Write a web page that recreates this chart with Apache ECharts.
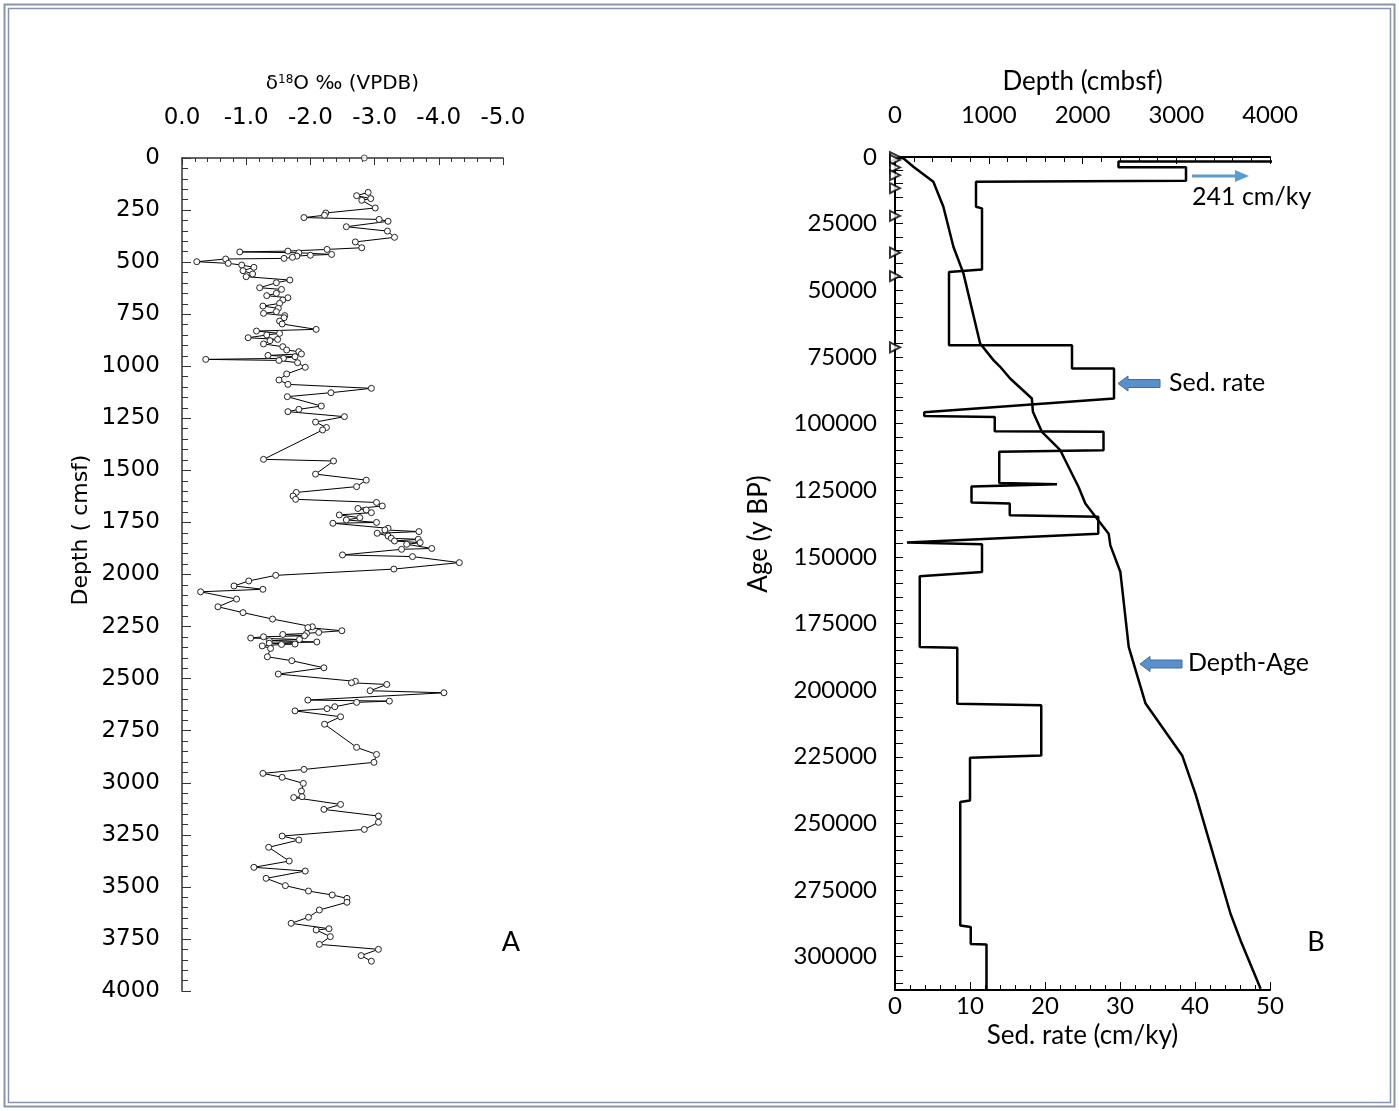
<!DOCTYPE html>
<html>
<head>
<meta charset="utf-8">
<title>d18O and depth-age model</title>
<script src="https://cdn.jsdelivr.net/npm/echarts@6/dist/echarts.min.js"></script>
<style>
  html, body { margin: 0; padding: 0; background: #fff; }
  #main { width: 1399px; height: 1111px; }
</style>
</head>
<body>
<div id="main"></div>
<script>
// Panel A: d18O (permil VPDB) against depth (cm)
var o18 = [
  -2.90, -2.72, -2.94, -2.80, -3.01, -2.24, -2.22, -1.90, -3.07, -3.21,
  -2.56, -3.20, -3.31, -2.70, -2.80, -2.26, -1.65, -0.90, -1.82, -2.33,
  -2.00, -1.79, -1.72, -1.59, -0.68, -0.23, -0.72, -0.93, -1.12, -0.95,
  -1.10, -1.00, -1.68, -1.47, -1.21, -1.55, -1.47, -1.32, -1.65, -1.57,
  -1.52, -1.26, -1.50, -1.47, -1.27, -1.60, -1.59, -1.52, -1.56, -2.09,
  -1.16, -1.52, -1.32, -1.03, -1.49, -1.37, -1.27, -1.57, -1.63, -1.82,
  -1.86, -1.34, -1.76, -1.58, -0.37, -1.51, -1.80, -1.92, -1.63, -1.51,
  -1.65, -2.95, -2.32, -1.64, -2.17, -1.82, -1.65, -2.53, -2.08, -2.25,
  -2.19, -1.27, -2.36, -2.08, -2.87, -2.72, -1.78, -1.73, -1.77,
  -3.03, -3.12, -2.74, -2.87, -2.95, -2.45, -2.77, -2.56, -3.03, -2.35,
  -3.21, -3.16, -3.69, -3.04, -3.21, -3.26, -3.68, -3.31, -3.71, -3.50,
  -3.89, -3.42, -2.50, -3.59, -4.32, -3.30, -1.46, -1.04, -0.81, -1.26,
  -0.29, -0.85, -0.56, -0.95, -1.41, -2.03, -1.96, -2.49, -2.13, -1.94,
  -1.57, -1.91, -1.27, -1.07, -1.83, -1.36, -2.10, -1.36, -1.76, -1.55,
  -1.25, -1.38, -1.33, -1.71, -2.21, -1.50, -2.70, -2.64, -3.19, -2.93,
  -4.08, -1.96, -3.23, -2.72, -2.38, -2.26, -1.76, -2.47, -2.22,
  -2.72, -3.03, -2.99, -1.90, -1.26, -1.56, -1.89, -1.86, -1.87, -1.74,
  -2.47, -2.21, -3.06, -3.06, -2.84, -1.56, -1.82, -1.35, -1.67, -1.12,
  -1.92, -1.31, -1.61, -1.97, -2.34, -2.57, -2.57, -2.14, -1.97, -1.70,
  -2.29, -2.09, -2.31, -2.14, -3.06, -2.79, -2.95
];
var depthA = [
  165, 181, 195, 203, 240, 264, 275, 286, 295, 304,
  330, 351, 381, 403, 431, 439, 447, 451, 455, 463,
  467, 471, 477, 482, 485, 498, 506, 514, 525, 541,
  557, 570, 586, 599, 623, 631, 650, 661, 671, 682,
  698, 711, 722, 738, 746, 757, 767, 783, 797, 823,
  831, 842, 850, 863, 871, 877, 893, 906, 922, 930,
  941, 948, 954, 962, 967, 972, 983, 1005, 1037, 1066,
  1087, 1106, 1127, 1146, 1191, 1207, 1218, 1242, 1268, 1294,
  1306, 1447, 1455, 1518, 1547, 1578, 1606, 1623, 1639,
  1654, 1671, 1683, 1690, 1703, 1714, 1727, 1738, 1750, 1754,
  1778, 1786, 1794, 1802, 1815, 1826, 1831, 1839, 1847, 1855,
  1875, 1879, 1906, 1914, 1943, 1974, 2004, 2031, 2055, 2071,
  2083, 2118, 2155, 2183, 2214, 2251, 2255, 2270, 2278, 2283,
  2288, 2294, 2299, 2305, 2312, 2318, 2324, 2330, 2334, 2336,
  2343, 2355, 2395, 2414, 2448, 2478, 2513, 2520, 2528, 2558,
  2568, 2603, 2608, 2614, 2635, 2644, 2655, 2683, 2719,
  2830, 2864, 2902, 2936, 2955, 2974, 3003, 3040, 3067, 3071,
  3104, 3128, 3160, 3190, 3224, 3256, 3275, 3310, 3376, 3406,
  3424, 3459, 3494, 3520, 3539, 3555, 3574, 3611, 3646, 3675,
  3701, 3707, 3739, 3776, 3800, 3830, 3857
];
// core-top sample, not joined to the rest
var topO18 = [-2.84];
var topDepth = [0];

// Panel B: depth-age model
var modelDepth = [0, 89, 196, 409, 516, 623, 730, 908, 1050, 1122, 1228, 1460, 1471, 1567,
  1763, 1958, 2030, 2279, 2297, 2404, 2493, 2671, 3063, 3205, 3579, 3686, 3900];
var modelAge = [0, 490, 3640, 9270, 18660, 33670, 43660, 69940, 76200, 78700, 83100, 90600, 95600, 103100,
  110000, 123800, 130000, 141300, 145700, 155700, 183800, 204900, 224500, 238900, 283900, 293900, 312000];

// sedimentation rate (cm/ky) steps
var sedRate = [241, 241, 29.8, 29.8, 38.8, 38.8, 10.8, 10.8, 11.6, 11.6, 7.2, 7.2, 23.6, 23.6, 29.2, 29.2,
  3.9, 3.9, 13.3, 13.3, 27.8, 27.8, 13.9, 13.9, 21.6, 10.2, 10.2, 15.3, 15.3, 27.1, 27.1, 1.6,
  11.6, 11.6, 3.3, 3.3, 8.3, 8.3, 19.5, 19.5, 10.0, 10.0, 8.7, 8.7, 10.1, 10.1, 12.2, 12.2];
var sedAge = [0, 1700, 1700, 3870, 3870, 8890, 9270, 18660, 19260, 42160, 43170, 70580, 70580, 79330, 79330, 90600,
  95800, 97200, 97500, 102900, 103100, 110000, 110600, 122300, 122800, 123600, 129600, 130000, 134400, 135000, 141300, 144600,
  145300, 155700, 157300, 183800, 184100, 205100, 205700, 224500, 225400, 241400, 242000, 288300, 288900, 295200, 295400, 312500];

// age tie points drawn on the age axis
var tieAges = [0, 1100, 3900, 6800, 11700, 22100, 35900, 44700, 71400];

function zip(xs, ys) {
  return xs.map(function (x, i) { return [x, ys[i]]; });
}

var fontA = 'DejaVu Sans';
var fontB = 'Lato';
var blue = '#5B8FCB';

var chart = echarts.init(document.getElementById('main'));

function blockArrow(tipX, y, len) {
  // left pointing block arrow
  return [
    [tipX, y], [tipX + 10, y - 7.5], [tipX + 10, y - 4], [tipX + len, y - 4],
    [tipX + len, y + 4], [tipX + 10, y + 4], [tipX + 10, y + 7.5]
  ];
}

function plain(v) { return String(v); }

chart.setOption({
  animation: false,
  backgroundColor: '#fff',
  grid: [
    { left: 182, top: 158, width: 321, height: 833 },
    { left: 895, top: 157, width: 375, height: 833 }
  ],
  xAxis: [
    {
      gridIndex: 0, type: 'value', position: 'top', inverse: true,
      min: -5, max: 0, interval: 1,
      name: '{d|δ}{s|18}{d|O ‰ (VPDB)}', nameLocation: 'middle', nameGap: 64,
      nameTextStyle: {
        color: '#000', fontFamily: fontA, fontSize: 20,
        rich: {
          d: { fontFamily: fontA, fontSize: 20, color: '#000' },
          s: { fontFamily: fontA, fontSize: 12, color: '#000', verticalAlign: 'top', padding: [0, 0, 8, 0] }
        }
      },
      axisLine: { onZero: false, lineStyle: { color: '#333', width: 1.5 } },
      axisTick: { inside: true, length: 7, lineStyle: { color: '#333' } },
      minorTick: { show: true, splitNumber: 5, length: 4, lineStyle: { color: '#333' } },
      splitLine: { show: false },
      axisLabel: {
        color: '#000', fontFamily: fontA, fontSize: 23, margin: 28,
        formatter: function (v) { return v.toFixed(1); }
      }
    },
    {
      gridIndex: 1, type: 'value', position: 'top',
      min: 0, max: 4000, interval: 1000,
      name: 'Depth (cmbsf)', nameLocation: 'middle', nameGap: 62,
      nameTextStyle: { color: '#000', fontFamily: fontB, fontSize: 26 },
      axisLine: { onZero: false, lineStyle: { color: '#000', width: 2 } },
      axisTick: { inside: true, length: 7, lineStyle: { color: '#000' } },
      minorTick: { show: true, splitNumber: 5, length: 5, lineStyle: { color: '#000' } },
      splitLine: { show: false },
      axisLabel: { color: '#000', fontFamily: fontB, fontSize: 24, margin: 30, formatter: plain }
    },
    {
      gridIndex: 1, type: 'value', position: 'bottom',
      min: 0, max: 50, interval: 10,
      name: 'Sed. rate (cm/ky)', nameLocation: 'middle', nameGap: 28,
      nameTextStyle: { color: '#000', fontFamily: fontB, fontSize: 26 },
      axisLine: { onZero: false, lineStyle: { color: '#000', width: 2 } },
      axisTick: { inside: true, length: 8, lineStyle: { color: '#000' } },
      minorTick: { show: true, splitNumber: 5, length: 5, lineStyle: { color: '#000' } },
      splitLine: { show: false },
      axisLabel: { color: '#000', fontFamily: fontB, fontSize: 24, margin: 4, formatter: plain }
    }
  ],
  yAxis: [
    {
      gridIndex: 0, type: 'value', inverse: true,
      min: 0, max: 4000, interval: 250,
      axisLine: { onZero: false, lineStyle: { color: '#333', width: 1.5 } },
      axisTick: { inside: true, length: 9, lineStyle: { color: '#333' } },
      minorTick: { show: true, splitNumber: 5, length: 6, lineStyle: { color: '#333' } },
      splitLine: { show: false },
      axisLabel: { color: '#000', fontFamily: fontA, fontSize: 23, margin: 22, formatter: plain }
    },
    {
      gridIndex: 1, type: 'value', inverse: true,
      min: 0, max: 312500, interval: 5000,
      axisLine: { onZero: false, lineStyle: { color: '#000', width: 2 } },
      axisTick: { inside: true, length: 8, lineStyle: { color: '#000' } },
      splitLine: { show: false },
      axisLabel: {
        color: '#000', fontFamily: fontB, fontSize: 24, margin: 18,
        formatter: function (v) { return v % 25000 === 0 ? String(v) : ''; }
      }
    }
  ],
  series: [
    {
      type: 'line', xAxisIndex: 0, yAxisIndex: 0,
      data: zip(o18, depthA),
      symbol: 'circle', symbolSize: 6,
      itemStyle: { color: '#fff', borderColor: '#222', borderWidth: 1 },
      lineStyle: { color: '#000', width: 1 },
      emphasis: { disabled: true }, silent: true
    },
    {
      type: 'scatter', xAxisIndex: 0, yAxisIndex: 0,
      data: zip(topO18, topDepth),
      symbol: 'circle', symbolSize: 6, clip: false,
      itemStyle: { color: '#fff', borderColor: '#222', borderWidth: 1 },
      silent: true
    },
    {
      type: 'line', xAxisIndex: 1, yAxisIndex: 1,
      data: zip(modelDepth, modelAge),
      symbol: 'none',
      lineStyle: { color: '#000', width: 2.5 },
      silent: true
    },
    {
      type: 'line', xAxisIndex: 2, yAxisIndex: 1,
      data: zip(sedRate, sedAge),
      symbol: 'none', clip: true,
      lineStyle: { color: '#000', width: 2.5 },
      silent: true
    },
    {
      type: 'scatter', xAxisIndex: 1, yAxisIndex: 1,
      data: tieAges.map(function (a) { return [0, a]; }),
      symbol: 'triangle', symbolRotate: -90, symbolSize: [10, 10], clip: false,
      itemStyle: { color: '#fff', borderColor: '#000', borderWidth: 2 },
      z: 5, silent: true
    }
  ],
  graphic: [
    { type: 'rect', shape: { x: 4.5, y: 4.5, width: 1390, height: 1102 },
      style: { fill: 'none', stroke: '#8A94A8', lineWidth: 2 }, silent: true },
    { type: 'rect', shape: { x: 8.5, y: 8.5, width: 1382, height: 1094 },
      style: { fill: 'none', stroke: '#8A94A8', lineWidth: 1.5 }, silent: true },
    { type: 'text', x: 81, y: 530, rotation: Math.PI / 2,
      style: { text: 'Depth ( cmsf)', fontFamily: fontA, fontSize: 22, fill: '#000', align: 'center', verticalAlign: 'middle' } },
    { type: 'text', x: 759, y: 534, rotation: Math.PI / 2,
      style: { text: 'Age (y BP)', fontFamily: fontB, fontSize: 26, fill: '#000', align: 'center', verticalAlign: 'middle' } },
    { type: 'text', x: 511, y: 942,
      style: { text: 'A', fontFamily: fontB, fontSize: 27, fill: '#000', align: 'center', verticalAlign: 'middle' } },
    { type: 'text', x: 1316, y: 942,
      style: { text: 'B', fontFamily: fontB, fontSize: 27, fill: '#000', align: 'center', verticalAlign: 'middle' } },
    // 241 cm/ky pointer
    { type: 'line', shape: { x1: 1192, y1: 176, x2: 1237, y2: 176 },
      style: { stroke: '#5B9BD5', lineWidth: 3 } },
    { type: 'polygon', shape: { points: [[1235, 170], [1249, 176], [1235, 182]] },
      style: { fill: '#5B9BD5' } },
    { type: 'text', x: 1192, y: 197,
      style: { text: '241 cm/ky', fontFamily: fontB, fontSize: 25, fill: '#000', align: 'left', verticalAlign: 'middle' } },
    // block arrows
    { type: 'polygon', shape: { points: blockArrow(1118, 383.5, 42) },
      style: { fill: blue, stroke: '#3F6E9E', lineWidth: 1 } },
    { type: 'text', x: 1169, y: 383,
      style: { text: 'Sed. rate', fontFamily: fontB, fontSize: 25, fill: '#000', align: 'left', verticalAlign: 'middle' } },
    { type: 'polygon', shape: { points: blockArrow(1140, 664, 42) },
      style: { fill: blue, stroke: '#3F6E9E', lineWidth: 1 } },
    { type: 'text', x: 1188, y: 663,
      style: { text: 'Depth-Age', fontFamily: fontB, fontSize: 25, fill: '#000', align: 'left', verticalAlign: 'middle' } }
  ]
});
</script>
</body>
</html>
